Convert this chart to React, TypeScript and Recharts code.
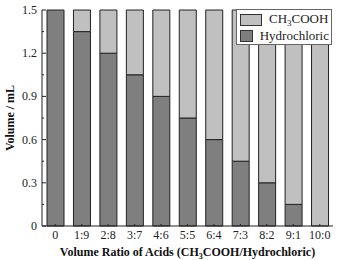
import { BarChart, Bar, XAxis, YAxis } from 'recharts';

const ratios = ['0', '1:9', '2:8', '3:7', '4:6', '5:5', '6:4', '7:3', '8:2', '9:1', '10:0'];
const hydrochloric = [1.5, 1.35, 1.2, 1.05, 0.9, 0.75, 0.6, 0.45, 0.3, 0.15, 0];
const aceticAcid = [0, 0.15, 0.3, 0.45, 0.6, 0.75, 0.9, 1.05, 1.2, 1.35, 1.5];
const yTicks = [0, 0.15, 0.3, 0.45, 0.6, 0.75, 0.9, 1.05, 1.2, 1.35, 1.5];
const majorTicks = [0, 0.3, 0.6, 0.9, 1.2, 1.5];

const data = ratios.map((r, i) => ({ ratio: r, hcl: hydrochloric[i], acetic: aceticAcid[i] }));

const FONT = '"Liberation Serif", "Times New Roman", serif';
const DARK = '#7f7f7f';
const LIGHT = '#c0c0c0';

const YTick = ({ x, y, payload }: any) => {
  const v = payload.value;
  const major = majorTicks.some((m) => Math.abs(m - v) < 1e-6);
  return (
    <g>
      <line x1={x} x2={x + (major ? 4 : 2)} y1={y} y2={y} stroke="#222" />
      {major && (
        <text x={x - 5} y={y} dy={4} textAnchor="end" fontSize={12} fill="#222" fontFamily={FONT}>
          {v === 0 ? '0' : v.toFixed(1)}
        </text>
      )}
    </g>
  );
};

const XTick = ({ x, y, payload }: any) => (
  <g>
    <line x1={x} x2={x} y1={y} y2={y - 2} stroke="#222" />
    <text x={x} y={y + 13} textAnchor="middle" fontSize={12} fill="#222" fontFamily={FONT}>
      {payload.value}
    </text>
  </g>
);

const XLabel = ({ viewBox }: any) => {
  const cx = viewBox.x + viewBox.width / 2;
  return (
    <text x={cx} y={256} textAnchor="middle" fontSize={12} fontWeight="bold" fill="#111" fontFamily={FONT}>
      Volume Ratio of Acids (CH
      <tspan fontSize={8} dy={3}>3</tspan>
      <tspan dy={-3}>COOH/Hydrochloric)</tspan>
    </text>
  );
};

const YLabel = ({ viewBox }: any) => {
  const cy = viewBox.y + viewBox.height / 2;
  return (
    <text
      x={14}
      y={cy}
      transform={`rotate(-90 14 ${cy})`}
      textAnchor="middle"
      fontSize={12}
      fontWeight="bold"
      fill="#111"
      fontFamily={FONT}
    >
      Volume / mL
    </text>
  );
};

const LegendBox = () => (
  <div
    style={{
      position: 'absolute',
      left: 236,
      top: 9,
      width: 96,
      boxSizing: 'border-box',
      border: '1px solid #666',
      background: '#fff',
      padding: '1px 2px 1px 3px',
      fontFamily: FONT,
      fontSize: 13,
      color: '#222',
      lineHeight: '15px',
    }}
  >
    <div style={{ display: 'flex', alignItems: 'center' }}>
      <span style={{ width: 20, height: 10, background: LIGHT, border: '1px solid #333', marginRight: 7 }} />
      <span>
        CH<sub style={{ fontSize: 9, verticalAlign: 'baseline', position: 'relative', top: 3 }}>3</sub>COOH
      </span>
    </div>
    <div style={{ display: 'flex', alignItems: 'center' }}>
      <span style={{ width: 20, height: 10, background: DARK, border: '1px solid #333', marginRight: 7 }} />
      <span>Hydrochloric</span>
    </div>
  </div>
);

export default function App() {
  return (
    <div style={{ position: 'absolute', left: 0, top: 0, width: 339, height: 260, background: '#fff' }}>
      <BarChart width={339} height={260} data={data} margin={{ top: 10, right: 6, bottom: 4, left: 0 }} barSize={17}>
        <XAxis
          dataKey="ratio"
          height={30}
          stroke="#222"
          tickLine={false}
          tickSize={0}
          tickMargin={0}
          tick={<XTick />}
          interval={0}
          label={<XLabel />}
        />
        <YAxis
          width={42}
          domain={[0, 1.5]}
          ticks={yTicks}
          interval={0}
          stroke="#222"
          tickLine={false}
          tickSize={0}
          tickMargin={0}
          tick={<YTick />}
          label={<YLabel />}
        />
        <Bar dataKey="hcl" name="Hydrochloric" stackId="a" fill={DARK} stroke="#222" strokeWidth={1} isAnimationActive={false} />
        <Bar dataKey="acetic" name="CH3COOH" stackId="a" fill={LIGHT} stroke="#222" strokeWidth={1} isAnimationActive={false} />
      </BarChart>
      <LegendBox />
    </div>
  );
}
